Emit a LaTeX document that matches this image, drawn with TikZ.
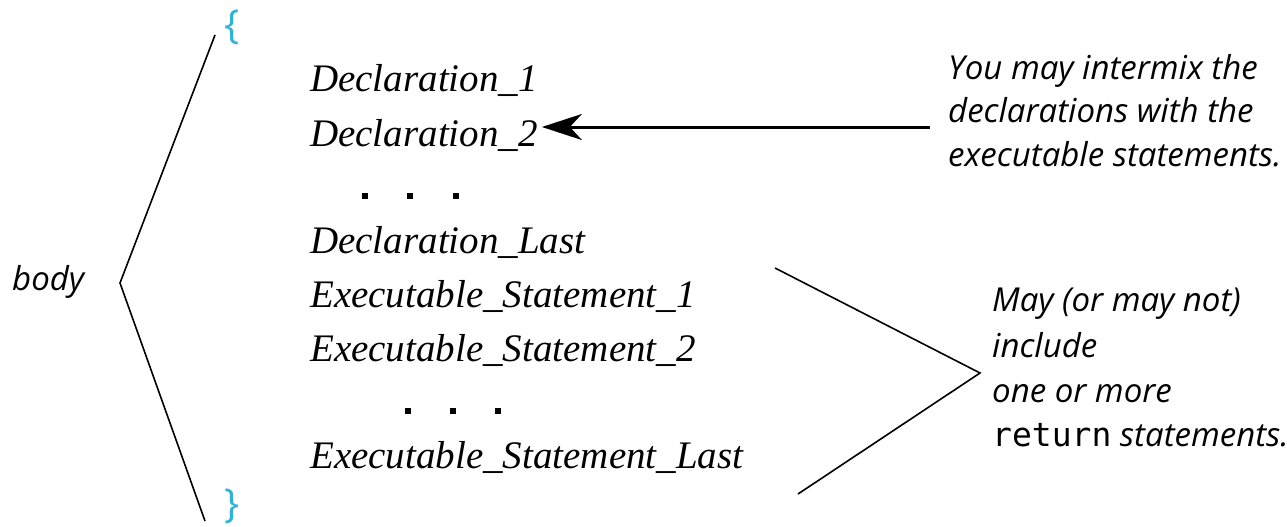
\documentclass[tikz,border=0pt]{standalone}
\usepackage{fontspec}
\setmainfont{Liberation Serif}
\newfontfamily\notefont{Open Sans}
\newfontfamily\codefont{DejaVu Sans Mono}
\usetikzlibrary{arrows.meta}
\definecolor{bracecyan}{HTML}{2EB3D6}
\tikzset{
  codeline/.style={anchor=base west, inner sep=0pt, font=\fontsize{39}{39}\selectfont\itshape},
  note/.style={anchor=base west, inner sep=0pt, font=\fontsize{33}{33}\selectfont\notefont\itshape},
  bracetext/.style={inner sep=0pt, text=bracecyan, font=\fontsize{40}{40}\selectfont\notefont},
  dotmark/.style={rectangle, fill=black, inner sep=0pt, minimum size=5.5pt},
  thinline/.style={line width=1.6pt},
  arrowline/.style={line width=3pt, -{Stealth[length=40pt, width=26pt, inset=12pt]}},
}
\begin{document}
\begin{tikzpicture}[x=1pt, y=-1pt]
\useasboundingbox (0,0) rectangle (1287,527);
% left chevron
\coordinate (bt) at (215,35);
\coordinate (bm) at (120,283);
\coordinate (bb) at (205,521);
\draw[thinline] (bt) -- (bm) -- (bb);
\node[note] (body) at (12,290) {body};
\node[bracetext] (lbrace) at (232,27) {\{};
\node[bracetext] (rbrace) at (232,506) {\}};
% code lines
\node[codeline] (d1) at (310,92) {Declaration\_1};
\node[codeline] (d2) at (310,146) {Declaration\_2};
\node[dotmark] (da) at (365,196) {};
\node[dotmark] (db) at (410,196) {};
\node[dotmark] (dc) at (456,196) {};
\node[codeline] (dl) at (310,253) {Declaration\_Last};
\node[codeline] (e1) at (310,307) {Executable\_Statement\_1};
\node[codeline] (e2) at (310,361) {Executable\_Statement\_2};
\node[dotmark] (ea) at (408,411) {};
\node[dotmark] (eb) at (453,411) {};
\node[dotmark] (ec) at (498,411) {};
\node[codeline] (el) at (310,468) {Executable\_Statement\_Last};
% note 1
\node[note] (n1a) at (948,79) {You may intermix the};
\node[note] (n1b) at (948,122) {declarations with the};
\node[note] (n1c) at (948,166) {executable statements.};
\coordinate (arrstart) at (930,127);
\draw[arrowline] (arrstart) -- ([xshift=4pt]d2.east |- arrstart);
% note 2
\node[note] (n2a) at (992,311) {May (or may not)};
\node[note] (n2b) at (992,357) {include};
\node[note] (n2c) at (992,402) {one or more};
\node[note] (n2d) at (992,446) {{\codefont\upshape return} statements.};
\coordinate (rt) at (775,268);
\coordinate (rm) at (980,373);
\coordinate (rb) at (798,494);
\draw[thinline] (rt) -- (rm) -- (rb);
\end{tikzpicture}
\end{document}
